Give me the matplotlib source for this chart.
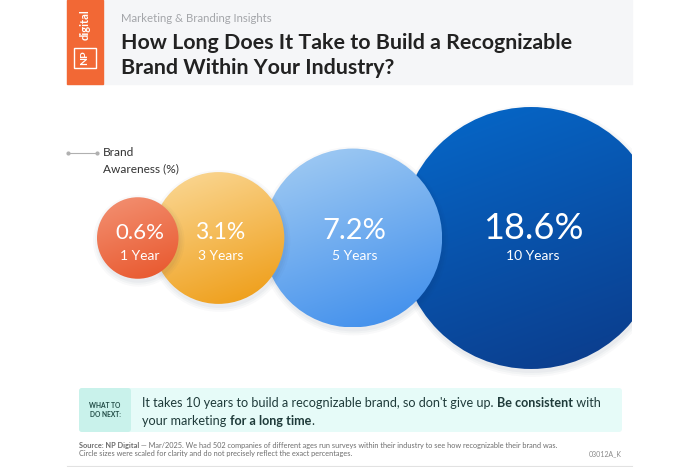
import numpy as np
import matplotlib
matplotlib.use("Agg")
import matplotlib.pyplot as plt
from matplotlib.patches import Circle, Rectangle, FancyBboxPatch
from matplotlib.colors import to_rgb

# data
periods = ["1 Year", "3 Years", "5 Years", "10 Years"]
awareness = [0.6, 3.1, 7.2, 18.6]
# gradient colours per bubble (light, dark)
light_cols = ["#F39274", "#FBDA9A", "#A6CEF3", "#0569CB"]
dark_cols = ["#E8552A", "#EE9A10", "#3A8BEC", "#0C3A88"]

title = "How Long Does It Take to Build a Recognizable\nBrand Within Your Industry?"
subtitle = "Marketing & Branding Insights"
source_1 = " \u2014 Mar/2025. We had 502 companies of different ages run surveys within their industry to see how recognizable their brand was."
source_2 = "Circle sizes were scaled for clarity and do not precisely reflect the exact percentages."

W, H = 700, 467
fig = plt.figure(figsize=(W / 100, H / 100), dpi=100)
bg = fig.add_axes([0, 0, 1, 1])
bg.set_xlim(0, W)
bg.set_ylim(H, 0)
bg.axis("off")

FONT = "Lato"

# header
bg.add_patch(Rectangle((67, 0), 565, 84, color="#F5F6F8", zorder=0))
bg.add_patch(Rectangle((67, 0), 36, 84, color="#F26835", zorder=1))
bg.text(85, 25, "digital", rotation=90, color="white", fontsize=8, fontweight="bold",
        ha="center", va="center", family=FONT, zorder=2)
bg.add_patch(Rectangle((74, 48), 22, 20, fill=False, ec="white", lw=1, zorder=2))
bg.text(85, 58, "NP", rotation=90, color="white", fontsize=7.5, fontweight="bold",
        ha="center", va="center", family=FONT, zorder=2)
bg.text(121, 22, subtitle, color="#A4A6AA", fontsize=8.2, family=FONT, va="baseline")
bg.text(121, 49, title.split("\n")[0], color="#222222", fontsize=15.4, fontweight="bold",
        family=FONT, va="baseline")
bg.text(121, 74, title.split("\n")[1], color="#222222", fontsize=15.4, fontweight="bold",
        family=FONT, va="baseline")

# legend marker
bg.plot([68, 97], [153, 153], color="#B0B0B0", lw=0.8)
bg.plot([68, 97], [153, 153], "o", color="#B0B0B0", ms=2)
bg.text(103, 156, "Brand", fontsize=8.6, color="#333333", family=FONT, va="baseline")
bg.text(103, 172, "Awareness (%)", fontsize=8.6, color="#333333", family=FONT, va="baseline")

# bubble chart area (pixel units)
x0, x1, y0, y1 = 67, 632, 95, 385
ax = fig.add_axes([x0 / W, 1 - y1 / H, (x1 - x0) / W, (y1 - y0) / H])
ax.set_xlim(x0, x1)
ax.set_ylim(y1, y0)
ax.axis("off")

vals = np.array(awareness)
radii = 21 + 25.5 * np.sqrt(vals)  # scaled for clarity
cy = 238
overlaps = [26, 21, 42]
centers = [97 + radii[0]]
for i in range(1, len(radii)):
    centers.append(centers[-1] + radii[i - 1] + radii[i] - overlaps[i - 1])

num_sizes = [16, 16.5, 21, 26]


def gradient(c1, c2, n=200, angle=70):
    a = np.deg2rad(angle)
    yy, xx = np.mgrid[0:1:n * 1j, 0:1:n * 1j]
    t = (xx * np.cos(a) + yy * np.sin(a)) / (np.cos(a) + np.sin(a))
    c1, c2 = np.array(to_rgb(c1)), np.array(to_rgb(c2))
    return c1 + (c2 - c1) * t[..., None]


for i, (cx, r) in enumerate(zip(centers, radii)):
    z = 10 - 2 * i
    # soft shadow
    for k, al in enumerate([0.035, 0.03, 0.025]):
        ax.add_patch(Circle((cx + 1, cy + 3), r + 1 + 2 * k, color="#1a2a4a", alpha=al,
                            lw=0, zorder=z - 0.5))
    circ = Circle((cx, cy), r, transform=ax.transData, facecolor="none", lw=0)
    ax.add_patch(circ)
    im = ax.imshow(gradient(light_cols[i], dark_cols[i]),
                   extent=(cx - r, cx + r, cy + r, cy - r), origin="upper",
                   zorder=z, interpolation="bilinear")
    im.set_clip_path(circ)
    ax.text(cx + 2, 239, f"{awareness[i]}%", color="white", fontsize=num_sizes[i],
            family=FONT, ha="center", va="baseline", zorder=z + 1)
    ax.text(cx + 2, 260, periods[i], color="white", fontsize=10, family=FONT,
            ha="center", va="baseline", zorder=z + 1)

ax.set_xlim(x0, x1)
ax.set_ylim(y1, y0)
ax.set_aspect("auto")

# "what to do next" box
bg.add_patch(FancyBboxPatch((79, 388), 543, 44, boxstyle="round,pad=0,rounding_size=3",
                            color="#E6FBF8", lw=0))
bg.add_patch(FancyBboxPatch((79, 388), 52, 44, boxstyle="round,pad=0,rounding_size=3",
                            color="#C9F2EB", lw=0))
bg.text(105, 410, "WHAT TO\nDO NEXT:", fontsize=4.8, fontweight="bold", color="#1F4A44",
        family=FONT, ha="center", va="center", linespacing=1.2)

fig.canvas.draw()
renderer = fig.canvas.get_renderer()


def advance(txt, size, bold):
    # width of txt including trailing spaces, measured with a bar sentinel
    w = 0
    for s, sign in ((txt + "|", 1), ("|", -1)):
        t = bg.text(0, 0, s, fontsize=size, family=FONT, fontweight="bold" if bold else "normal")
        w += sign * t.get_window_extent(renderer).width
        t.remove()
    return w


def run_text(x, y, parts, size, color):
    for txt, bold in parts:
        bg.text(x, y, txt, fontsize=size, color=color, family=FONT,
                fontweight="bold" if bold else "normal", va="baseline")
        x += advance(txt, size, bold)


run_text(142, 407, [("It takes 10 years to build a recognizable brand, so don't give up. ", False),
                    ("Be consistent", True), (" with", False)], 9.1, "#1F3B3A")
run_text(142, 425, [("your marketing ", False), ("for a long time", True), (".", False)], 9.1, "#1F3B3A")

run_text(79, 448, [("Source: NP Digital", True), (source_1, False)], 5.3, "#6E6E6E")
bg.text(79, 456, source_2, fontsize=5.3, color="#6E6E6E", family=FONT, va="baseline")
bg.text(622, 456, "03012A_K", fontsize=5, color="#8A8A8A", family=FONT, ha="right", va="baseline")
bg.plot([67, 632], [466, 466], color="#E2E2E2", lw=0.8)

fig.savefig("out.png", dpi=100, facecolor="white")
